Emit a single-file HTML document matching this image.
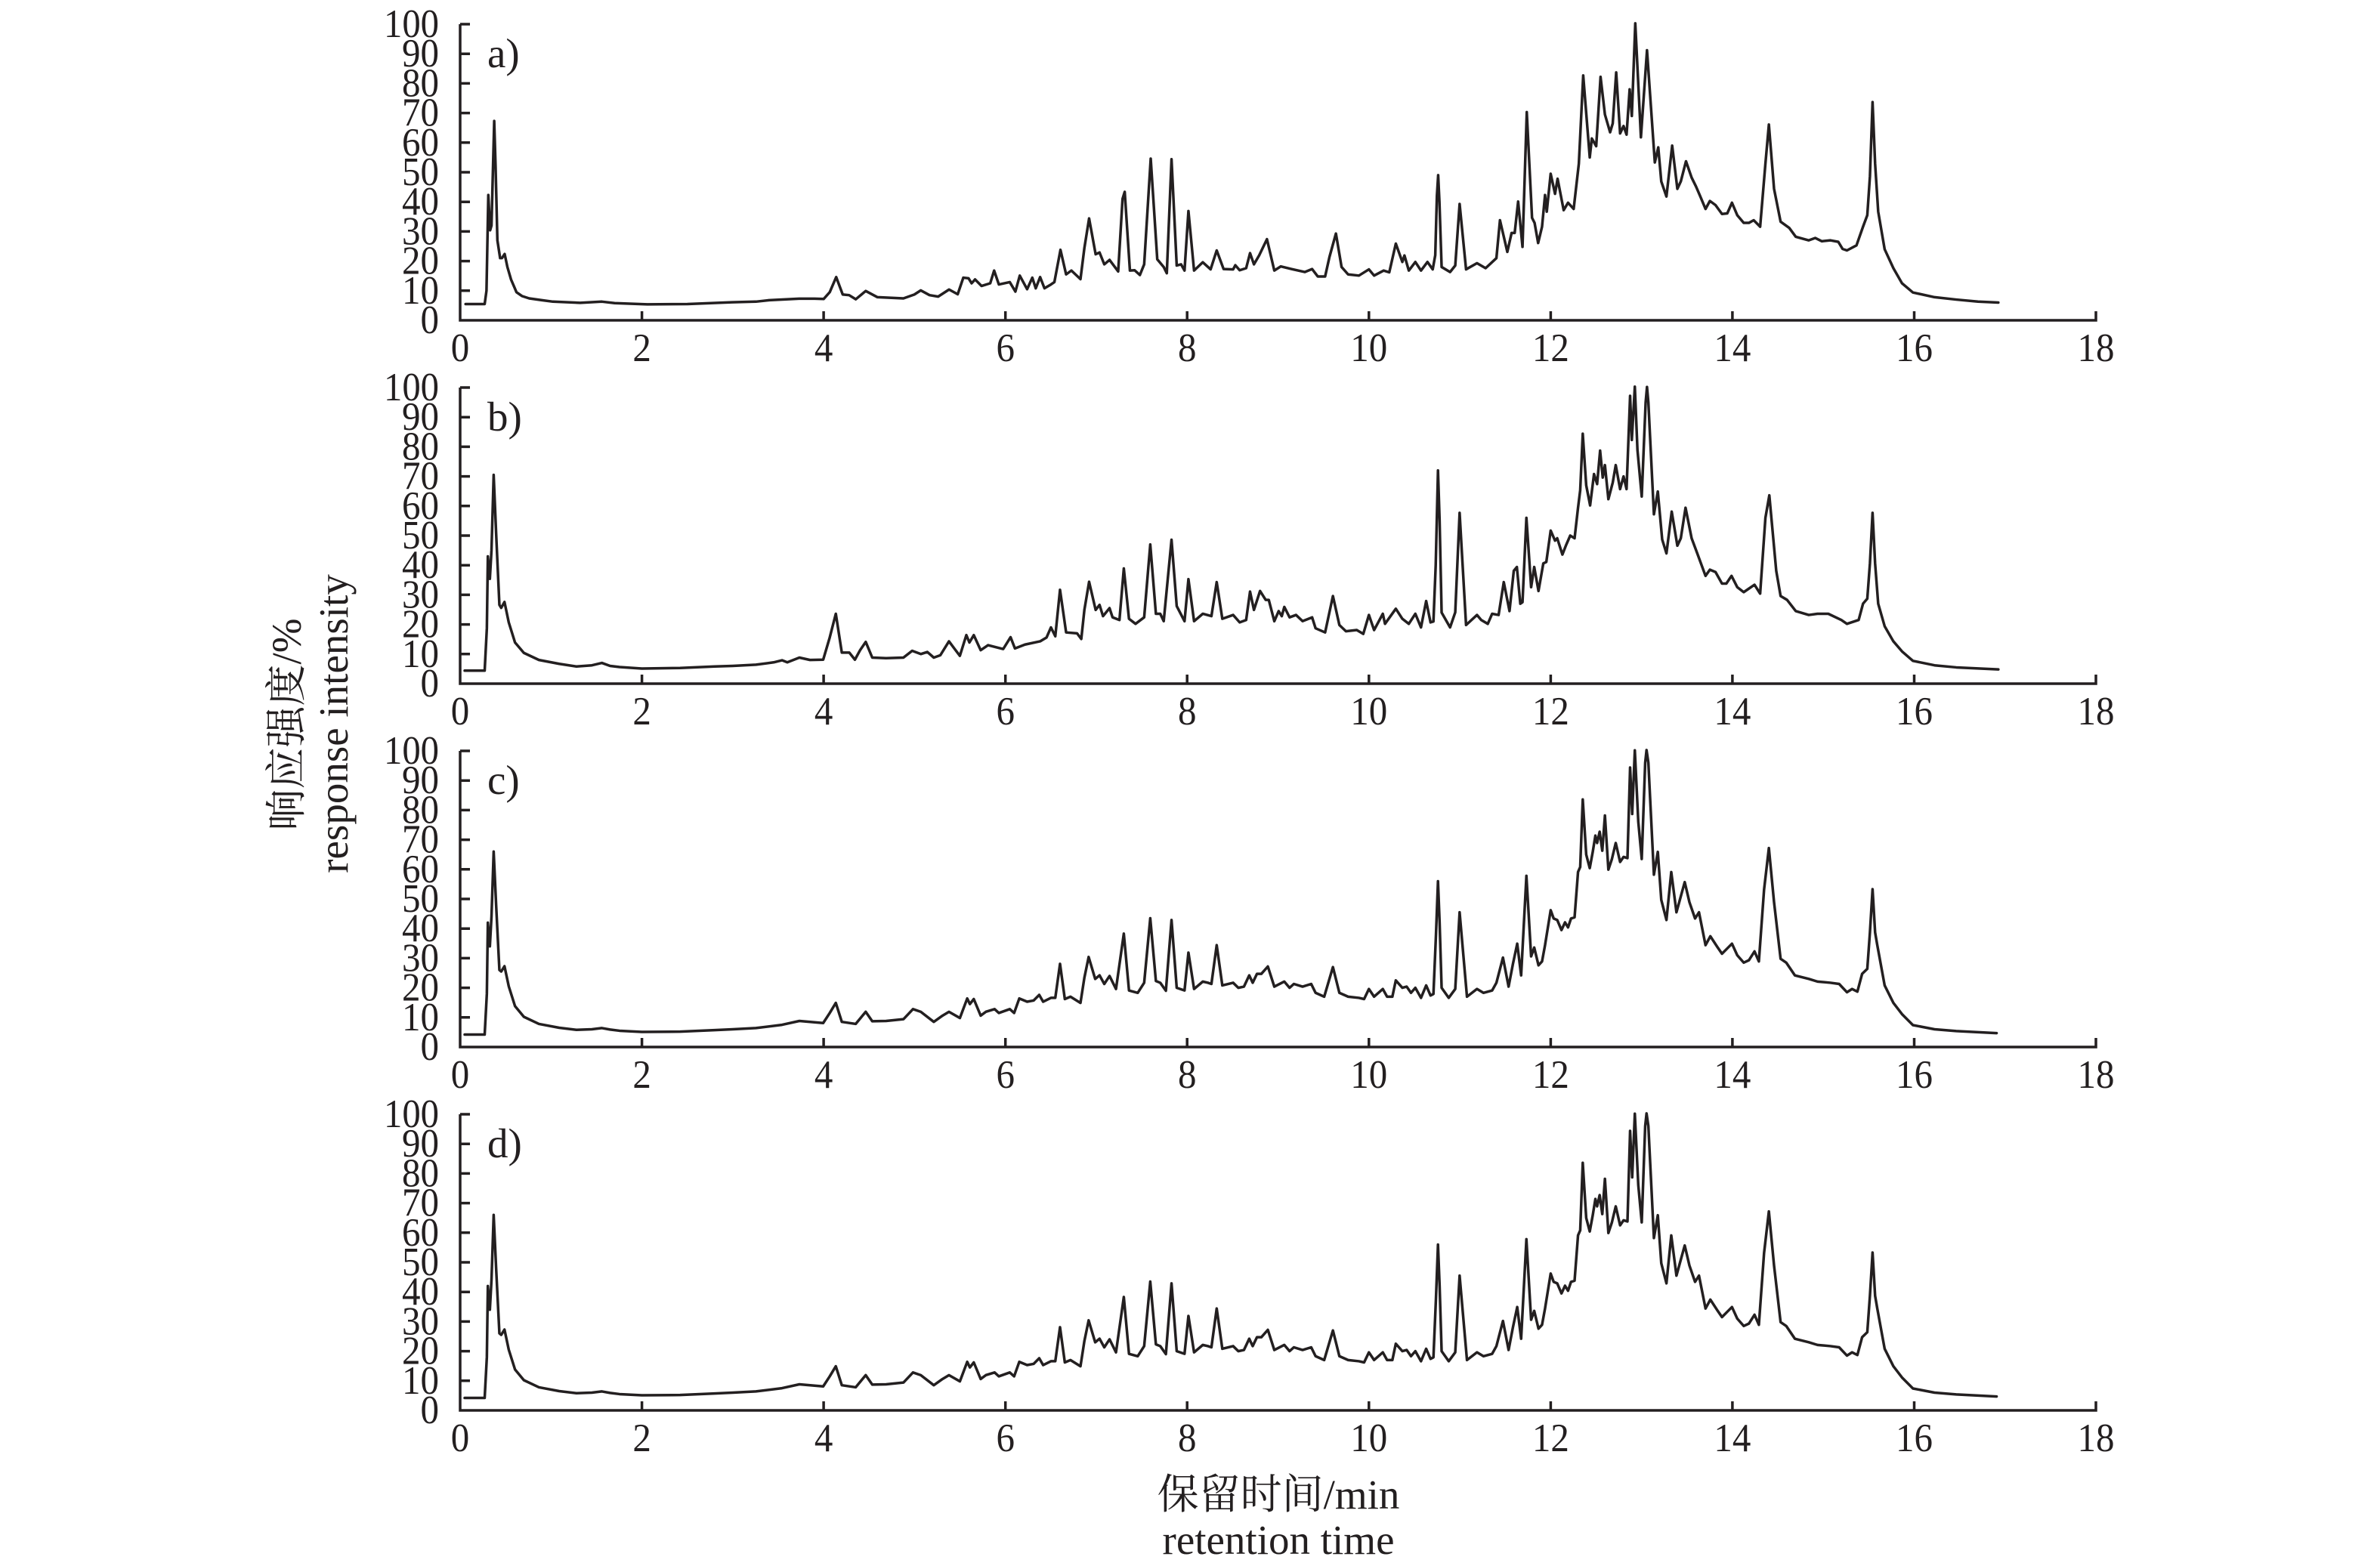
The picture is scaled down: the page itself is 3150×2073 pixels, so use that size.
<!DOCTYPE html>
<html>
<head>
<meta charset="utf-8">
<style>
html,body{margin:0;padding:0;background:#fff;}
body{width:3150px;height:2073px;overflow:hidden;}
svg{display:block;}
.t{font-family:"Liberation Serif","Noto Serif CJK SC",serif;fill:#231f20;}
.ax{fill:none;stroke:#231f20;stroke-width:3.5;}
.dl{fill:none;stroke:#231f20;stroke-width:3.5;stroke-linejoin:round;stroke-linecap:round;}
</style>
</head>
<body>
<svg width="3150" height="2073" viewBox="0 0 3150 2073" xmlns="http://www.w3.org/2000/svg">
<rect width="3150" height="2073" fill="#fff"/>

<defs>
<g id="axes">
  <path class="ax" d="M609,32 V424 H2774 V412"/>
  <path class="ax" d="M609,384.8H622 M609,345.6H622 M609,306.4H622 M609,267.2H622 M609,228H622 M609,188.8H622 M609,149.6H622 M609,110.4H622 M609,71.2H622 M609,32H622"/>
  <path class="ax" d="M849.6,424V412 M1090.1,424V412 M1330.7,424V412 M1571.2,424V412 M1811.8,424V412 M2052.4,424V412 M2292.9,424V412 M2533.5,424V412"/>
  <g class="t" font-size="53" text-anchor="end">
    <text x="581" y="441" textLength="24.5" lengthAdjust="spacingAndGlyphs">0</text>
    <text x="581" y="401.8" textLength="49" lengthAdjust="spacingAndGlyphs">10</text>
    <text x="581" y="362.6" textLength="49" lengthAdjust="spacingAndGlyphs">20</text>
    <text x="581" y="323.4" textLength="49" lengthAdjust="spacingAndGlyphs">30</text>
    <text x="581" y="284.2" textLength="49" lengthAdjust="spacingAndGlyphs">40</text>
    <text x="581" y="245" textLength="49" lengthAdjust="spacingAndGlyphs">50</text>
    <text x="581" y="205.8" textLength="49" lengthAdjust="spacingAndGlyphs">60</text>
    <text x="581" y="166.6" textLength="49" lengthAdjust="spacingAndGlyphs">70</text>
    <text x="581" y="127.4" textLength="49" lengthAdjust="spacingAndGlyphs">80</text>
    <text x="581" y="88.2" textLength="49" lengthAdjust="spacingAndGlyphs">90</text>
    <text x="581" y="49" textLength="73" lengthAdjust="spacingAndGlyphs">100</text>
  </g>
  <g class="t" font-size="53" text-anchor="middle">
    <text x="609" y="478" textLength="24.5" lengthAdjust="spacingAndGlyphs">0</text>
    <text x="849.6" y="478" textLength="24.5" lengthAdjust="spacingAndGlyphs">2</text>
    <text x="1090.1" y="478" textLength="24.5" lengthAdjust="spacingAndGlyphs">4</text>
    <text x="1330.7" y="478" textLength="24.5" lengthAdjust="spacingAndGlyphs">6</text>
    <text x="1571.2" y="478" textLength="24.5" lengthAdjust="spacingAndGlyphs">8</text>
    <text x="1811.8" y="478" textLength="49" lengthAdjust="spacingAndGlyphs">10</text>
    <text x="2052.4" y="478" textLength="49" lengthAdjust="spacingAndGlyphs">12</text>
    <text x="2292.9" y="478" textLength="49" lengthAdjust="spacingAndGlyphs">14</text>
    <text x="2533.5" y="478" textLength="49" lengthAdjust="spacingAndGlyphs">16</text>
    <text x="2774" y="478" textLength="49" lengthAdjust="spacingAndGlyphs">18</text>
  </g>
</g>
</defs>

<!-- Panel a -->
<g>
  <use href="#axes"/>
  <text class="t" x="645" y="89" font-size="55">a)</text>
  <g transform="translate(609,424) scale(120.28,-3.92)">
    <polyline class="dl" vector-effect="non-scaling-stroke" points="0.06,5.5 0.27,5.5 0.29,10 0.31,42.3 0.33,30.4 0.345,32 0.375,67.3 0.39,52 0.41,27 0.44,21 0.46,21 0.49,22.4 0.52,18 0.56,13.8 0.62,9.5 0.68,8.2 0.76,7.4 0.9,6.8 1.02,6.3 1.32,5.9 1.56,6.3 1.7,5.8 2.06,5.4 2.5,5.5 2.99,6.1 3.255,6.3 3.4,6.8 3.73,7.3 3.9,7.3 4.0,7.2 4.067,9.5 4.138,14.6 4.21,8.7 4.28,8.5 4.353,7.1 4.463,9.9 4.592,7.8 4.878,7.4 4.998,8.7 5.069,10.1 5.165,8.5 5.26,8.0 5.38,10.4 5.475,8.8 5.537,14.4 5.594,14.2 5.628,12.5 5.666,13.8 5.737,11.6 5.833,12.5 5.876,16.8 5.928,12.1 6.048,12.9 6.11,9.7 6.158,15.1 6.239,10.5 6.296,14.4 6.334,10.8 6.382,14.6 6.43,10.8 6.501,12.1 6.539,12.9 6.606,23.8 6.668,15.5 6.726,16.8 6.826,13.9 6.869,24.4 6.921,34.4 6.993,22.3 7.036,22.9 7.088,18.9 7.146,20.4 7.241,16.5 7.289,41 7.313,43.4 7.37,16.8 7.422,16.9 7.48,15.3 7.527,18.9 7.599,54.6 7.671,20.6 7.742,18 7.776,15.9 7.828,54.4 7.885,18.5 7.933,18.9 7.971,16.8 8.014,36.9 8.076,16.8 8.172,19.6 8.258,17.2 8.325,23.6 8.401,17.3 8.506,17.2 8.53,18.6 8.578,16.9 8.649,17.6 8.692,22.7 8.735,18.9 8.792,21.9 8.878,27.4 8.959,16.8 9.031,18.2 9.15,17.3 9.294,16.3 9.375,17.3 9.437,14.8 9.518,14.8 9.566,21.4 9.637,29.3 9.699,18 9.771,15.5 9.89,15.1 10.0,17.2 10.057,15.1 10.162,16.8 10.224,16.2 10.296,25.9 10.368,19.7 10.391,21.9 10.439,16.8 10.511,19.7 10.573,16.8 10.644,19.7 10.702,17.2 10.73,22 10.748,42 10.762,49 10.776,40 10.8,18 10.893,16.3 10.95,18.5 10.998,39.3 11.069,17.2 11.189,19.3 11.284,17.6 11.403,21 11.442,33.8 11.523,23.1 11.57,29.5 11.604,29.5 11.642,40.1 11.69,24.8 11.737,70.3 11.795,34.6 11.823,32.9 11.862,26.1 11.905,31.6 11.938,42.3 11.957,36.7 12.0,49.5 12.048,42.7 12.076,47.8 12.143,37.2 12.191,39.7 12.253,37.6 12.31,52.9 12.358,82.7 12.43,55 12.453,61.4 12.501,58.8 12.549,82.2 12.597,69.5 12.654,63.5 12.683,66.5 12.721,83.7 12.764,63.1 12.802,65.6 12.835,62.7 12.869,78 12.893,69 12.931,100.3 12.993,61.8 13.06,91.2 13.146,53.3 13.184,58.4 13.217,46.9 13.274,41.8 13.337,59 13.394,44.4 13.432,46.9 13.489,53.7 13.551,48.2 13.599,45.2 13.647,41.8 13.704,37.6 13.752,40.3 13.814,38.9 13.885,35.9 13.943,36.1 13.995,39.7 14.053,35.5 14.124,32.9 14.181,32.9 14.234,33.8 14.305,31.6 14.363,52.9 14.401,66.1 14.458,44.4 14.53,33.3 14.625,31.2 14.697,28.2 14.84,27 14.912,27.8 14.983,26.7 15.079,27 15.165,26.5 15.212,24.1 15.26,23.6 15.365,25.3 15.437,31.6 15.484,35.5 15.513,48.6 15.542,73.7 15.57,52.9 15.604,36.7 15.675,24 15.771,17.6 15.866,12.5 15.986,9.4 16.224,7.8 16.463,7 16.702,6.3 16.926,6"/>
  </g>
</g>

<!-- Panel b -->
<g transform="translate(0,481)">
  <use href="#axes"/>
  <text class="t" x="645" y="89" font-size="55">b)</text>
  <g transform="translate(609,424) scale(120.28,-3.92)">
    <polyline class="dl" vector-effect="non-scaling-stroke" points="0.05,4.4 0.27,4.4 0.294,18.7 0.305,43 0.327,35.4 0.345,45 0.369,70.5 0.396,50.8 0.432,26.6 0.452,25.6 0.488,27.6 0.535,20.7 0.604,13.9 0.701,10.4 0.867,8 1.09,6.7 1.28,5.8 1.45,6.2 1.56,7 1.65,6 1.754,5.6 2.0,5.1 2.42,5.3 2.8,5.8 3.0,6 3.255,6.4 3.45,7.2 3.542,7.9 3.6,7.2 3.733,8.8 3.85,8 3.995,8.1 4.067,15.6 4.134,23.6 4.2,10.5 4.282,10.5 4.344,8.1 4.401,11.3 4.463,14.1 4.535,8.8 4.687,8.6 4.878,8.8 4.974,11.1 5.069,10 5.141,10.7 5.212,8.8 5.284,9.6 5.379,14.3 5.442,11.7 5.499,9.4 5.57,16.4 5.604,13.9 5.652,16.4 5.728,11.3 5.809,13 5.976,11.7 6.057,15.7 6.105,11.9 6.215,13.2 6.382,14.3 6.453,15.6 6.501,19 6.549,16 6.601,31.7 6.668,17.3 6.788,17 6.835,15.1 6.869,24.9 6.921,34.4 6.993,24.9 7.036,26.6 7.074,22.8 7.146,25.5 7.179,22.4 7.255,21.5 7.303,38.9 7.36,21.9 7.432,20.2 7.527,22.4 7.594,47 7.656,23.6 7.704,23.6 7.742,21.1 7.828,48.6 7.885,26.2 7.971,21.1 8.014,35.3 8.076,21.1 8.172,23.6 8.267,22.8 8.325,34.3 8.387,21.9 8.506,23.2 8.578,20.7 8.649,21.5 8.692,31.1 8.735,24.9 8.802,31.3 8.864,28.3 8.898,28.3 8.959,21.1 9.007,24.5 9.041,22.8 9.069,25.9 9.127,22.4 9.198,23.2 9.27,21.1 9.375,22.4 9.413,18.7 9.518,17.3 9.604,29.6 9.675,19.8 9.747,17.7 9.866,18.1 9.938,16.8 10.0,23.2 10.057,18.1 10.153,23.6 10.177,20.2 10.296,25.3 10.368,21.9 10.439,20.2 10.511,23.6 10.573,19 10.63,27.9 10.678,20.7 10.71,21 10.735,40 10.76,72 10.778,55 10.8,24 10.893,19 10.95,24.1 10.998,57.7 11.069,19.8 11.189,23.2 11.236,21.5 11.308,20.2 11.356,23.6 11.427,23.2 11.484,34.3 11.547,24.5 11.594,38.1 11.628,39.4 11.666,27 11.69,27.5 11.733,56 11.785,32.6 11.819,39.4 11.866,31.3 11.919,40.6 11.952,41.1 12.0,51.7 12.048,48.3 12.072,49.1 12.129,43.6 12.167,46.6 12.215,50 12.263,49.1 12.301,59.4 12.325,65.3 12.353,84.4 12.391,67 12.434,60.2 12.477,70.8 12.511,67.4 12.544,78.7 12.573,69.6 12.597,73.8 12.635,62.3 12.683,67.9 12.716,73.8 12.764,65.7 12.802,70 12.835,65.7 12.874,97.2 12.893,82.3 12.926,100.3 12.955,78.9 13.002,63.2 13.045,95 13.06,100.2 13.075,95 13.136,57.2 13.179,64.9 13.227,48.7 13.274,44 13.332,58.1 13.394,46.6 13.432,49.1 13.484,59.4 13.551,49.1 13.613,44 13.704,36.4 13.752,38.5 13.814,37.7 13.885,33.8 13.933,33.8 13.99,36.4 14.053,32.6 14.124,30.9 14.243,33.4 14.305,30.4 14.363,56 14.406,63.6 14.482,38.1 14.53,29.6 14.601,28.3 14.697,24.5 14.84,23.2 14.936,23.6 15.055,23.6 15.198,21.5 15.26,20.2 15.389,21.5 15.437,27 15.484,28.7 15.513,40.6 15.542,57.7 15.57,40.6 15.604,27 15.675,19.4 15.771,14.3 15.866,10.9 15.986,7.7 16.224,6.2 16.463,5.5 16.926,4.8"/>
  </g>
</g>

<!-- Panel c -->
<g transform="translate(0,962)">
  <use href="#axes"/>
  <text class="t" x="645" y="89" font-size="55">c)</text>
  <g transform="translate(609,424) scale(120.28,-3.92)">
    <polyline class="dl" vector-effect="non-scaling-stroke" points="0.05,4.2 0.27,4.2 0.294,18 0.305,42 0.327,34 0.345,44 0.369,66 0.396,48 0.432,26 0.452,25.5 0.488,27.3 0.535,20.5 0.604,13.8 0.701,10.2 0.867,7.8 1.09,6.5 1.28,5.8 1.45,6 1.56,6.4 1.65,5.9 1.754,5.5 2.0,5.1 2.42,5.2 2.8,5.7 3.0,6 3.255,6.4 3.542,7.5 3.733,8.8 3.995,8.1 4.067,11.5 4.134,14.9 4.2,8.5 4.353,7.8 4.463,11.9 4.535,8.7 4.687,8.8 4.878,9.4 4.983,12.8 5.069,11.9 5.212,8.5 5.308,10.6 5.379,11.9 5.499,9.8 5.58,16.4 5.609,14.5 5.652,16.2 5.728,10.6 5.785,11.9 5.881,12.8 5.928,11.5 6.048,12.8 6.096,11.5 6.153,16.4 6.239,15.3 6.31,15.7 6.372,17.6 6.415,15.3 6.501,16.6 6.549,16.6 6.601,28.1 6.654,16.2 6.716,17 6.826,14.9 6.869,23.4 6.916,30.4 6.988,23 7.036,24.2 7.088,21.3 7.146,24 7.217,19.6 7.303,38.3 7.36,19.1 7.456,18.3 7.527,21.7 7.594,43.5 7.656,22.3 7.704,21.7 7.766,19 7.828,42.9 7.885,20 7.971,19.1 8.014,31.9 8.076,19.6 8.172,22.1 8.229,21.7 8.267,21.3 8.325,34.4 8.387,20.8 8.506,21.7 8.563,20 8.625,20.4 8.683,24.2 8.721,21.7 8.768,24.7 8.816,24.7 8.888,27.2 8.959,20.4 9.069,22.1 9.127,20 9.174,21.3 9.27,20.4 9.365,21.3 9.413,18.3 9.508,17 9.604,27 9.675,18.3 9.771,17 9.89,16.6 9.947,16.2 10.0,19.6 10.057,17 10.153,19.6 10.2,17 10.258,17 10.296,22.5 10.368,20 10.415,20.4 10.463,18.3 10.511,20 10.573,16.6 10.63,20.8 10.678,17.4 10.71,17.9 10.738,38 10.76,56 10.778,42 10.8,20 10.878,16.6 10.95,19.6 10.998,45.5 11.079,17 11.189,19.6 11.26,18.3 11.356,19.1 11.403,21.7 11.475,30.2 11.537,20.4 11.585,28.1 11.632,34.9 11.675,24.2 11.733,57.8 11.785,30.6 11.819,33.6 11.866,27.6 11.905,28.9 11.938,34.4 12.0,46.2 12.033,43.4 12.072,42.9 12.119,39.5 12.158,42.1 12.191,40.4 12.224,43.4 12.263,43.8 12.301,59.1 12.325,60.8 12.353,83.6 12.391,65 12.43,60.4 12.463,65.9 12.492,71.4 12.511,68.9 12.539,72.7 12.568,66.3 12.597,78.2 12.635,59.9 12.673,63.4 12.716,68.9 12.764,62.5 12.802,64.2 12.845,63.8 12.874,94.4 12.897,78.7 12.926,100.2 12.964,76.1 13.002,63.5 13.04,96 13.055,100.3 13.075,96 13.136,58.2 13.179,65.9 13.217,49.7 13.274,42.9 13.327,59.1 13.384,45.5 13.475,55.7 13.527,48.9 13.589,43.4 13.632,45.5 13.704,34.4 13.757,37.4 13.838,33.6 13.885,31.5 13.995,34.9 14.053,31 14.124,28.5 14.181,29.3 14.243,32.3 14.291,28.9 14.348,53.1 14.401,67.2 14.458,48.9 14.53,29.8 14.592,28.5 14.687,24.2 14.84,23 14.936,22.1 15.079,21.7 15.174,21.3 15.26,18.5 15.317,19.6 15.375,18.7 15.427,24.7 15.484,26.4 15.513,38.7 15.542,53.3 15.57,38.7 15.594,34.4 15.675,20.8 15.771,14.9 15.866,11.1 15.986,7.4 16.224,6 16.463,5.4 16.907,4.7"/>
  </g>
</g>

<!-- Panel d -->
<g transform="translate(0,1443)">
  <use href="#axes"/>
  <text class="t" x="645" y="89" font-size="55">d)</text>
  <g transform="translate(609,424) scale(120.28,-3.92)">
    <polyline class="dl" vector-effect="non-scaling-stroke" points="0.05,4.2 0.27,4.2 0.294,18 0.305,42 0.327,34 0.345,44 0.369,66 0.396,48 0.432,26 0.452,25.5 0.488,27.3 0.535,20.5 0.604,13.8 0.701,10.2 0.867,7.8 1.09,6.5 1.28,5.8 1.45,6 1.56,6.4 1.65,5.9 1.754,5.5 2.0,5.1 2.42,5.2 2.8,5.7 3.0,6 3.255,6.4 3.542,7.5 3.733,8.8 3.995,8.1 4.067,11.5 4.134,14.9 4.2,8.5 4.353,7.8 4.463,11.9 4.535,8.7 4.687,8.8 4.878,9.4 4.983,12.8 5.069,11.9 5.212,8.5 5.308,10.6 5.379,11.9 5.499,9.8 5.58,16.4 5.609,14.5 5.652,16.2 5.728,10.6 5.785,11.9 5.881,12.8 5.928,11.5 6.048,12.8 6.096,11.5 6.153,16.4 6.239,15.3 6.31,15.7 6.372,17.6 6.415,15.3 6.501,16.6 6.549,16.6 6.601,28.1 6.654,16.2 6.716,17 6.826,14.9 6.869,23.4 6.916,30.4 6.988,23 7.036,24.2 7.088,21.3 7.146,24 7.217,19.6 7.303,38.3 7.36,19.1 7.456,18.3 7.527,21.7 7.594,43.5 7.656,22.3 7.704,21.7 7.766,19 7.828,42.9 7.885,20 7.971,19.1 8.014,31.9 8.076,19.6 8.172,22.1 8.229,21.7 8.267,21.3 8.325,34.4 8.387,20.8 8.506,21.7 8.563,20 8.625,20.4 8.683,24.2 8.721,21.7 8.768,24.7 8.816,24.7 8.888,27.2 8.959,20.4 9.069,22.1 9.127,20 9.174,21.3 9.27,20.4 9.365,21.3 9.413,18.3 9.508,17 9.604,27 9.675,18.3 9.771,17 9.89,16.6 9.947,16.2 10.0,19.6 10.057,17 10.153,19.6 10.2,17 10.258,17 10.296,22.5 10.368,20 10.415,20.4 10.463,18.3 10.511,20 10.573,16.6 10.63,20.8 10.678,17.4 10.71,17.9 10.738,38 10.76,56 10.778,42 10.8,20 10.878,16.6 10.95,19.6 10.998,45.5 11.079,17 11.189,19.6 11.26,18.3 11.356,19.1 11.403,21.7 11.475,30.2 11.537,20.4 11.585,28.1 11.632,34.9 11.675,24.2 11.733,57.8 11.785,30.6 11.819,33.6 11.866,27.6 11.905,28.9 11.938,34.4 12.0,46.2 12.033,43.4 12.072,42.9 12.119,39.5 12.158,42.1 12.191,40.4 12.224,43.4 12.263,43.8 12.301,59.1 12.325,60.8 12.353,83.6 12.391,65 12.43,60.4 12.463,65.9 12.492,71.4 12.511,68.9 12.539,72.7 12.568,66.3 12.597,78.2 12.635,59.9 12.673,63.4 12.716,68.9 12.764,62.5 12.802,64.2 12.845,63.8 12.874,94.4 12.897,78.7 12.926,100.2 12.964,76.1 13.002,63.5 13.04,96 13.055,100.3 13.075,96 13.136,58.2 13.179,65.9 13.217,49.7 13.274,42.9 13.327,59.1 13.384,45.5 13.475,55.7 13.527,48.9 13.589,43.4 13.632,45.5 13.704,34.4 13.757,37.4 13.838,33.6 13.885,31.5 13.995,34.9 14.053,31 14.124,28.5 14.181,29.3 14.243,32.3 14.291,28.9 14.348,53.1 14.401,67.2 14.458,48.9 14.53,29.8 14.592,28.5 14.687,24.2 14.84,23 14.936,22.1 15.079,21.7 15.174,21.3 15.26,18.5 15.317,19.6 15.375,18.7 15.427,24.7 15.484,26.4 15.513,38.7 15.542,53.3 15.57,38.7 15.594,34.4 15.675,20.8 15.771,14.9 15.866,11.1 15.986,7.4 16.224,6 16.463,5.4 16.907,4.7"/>
  </g>
</g>

<!-- Axis titles -->
<text class="t" font-size="55" text-anchor="middle" transform="translate(398,959) rotate(-90)">响应强度/%</text>
<text class="t" font-size="55" text-anchor="middle" transform="translate(460,958) rotate(-90)">response intensity</text>
<text class="t" font-size="55" text-anchor="middle" x="1692" y="1997">保留时间/min</text>
<text class="t" font-size="55" text-anchor="middle" x="1692" y="2057">retention time</text>
</svg>
</body>
</html>
